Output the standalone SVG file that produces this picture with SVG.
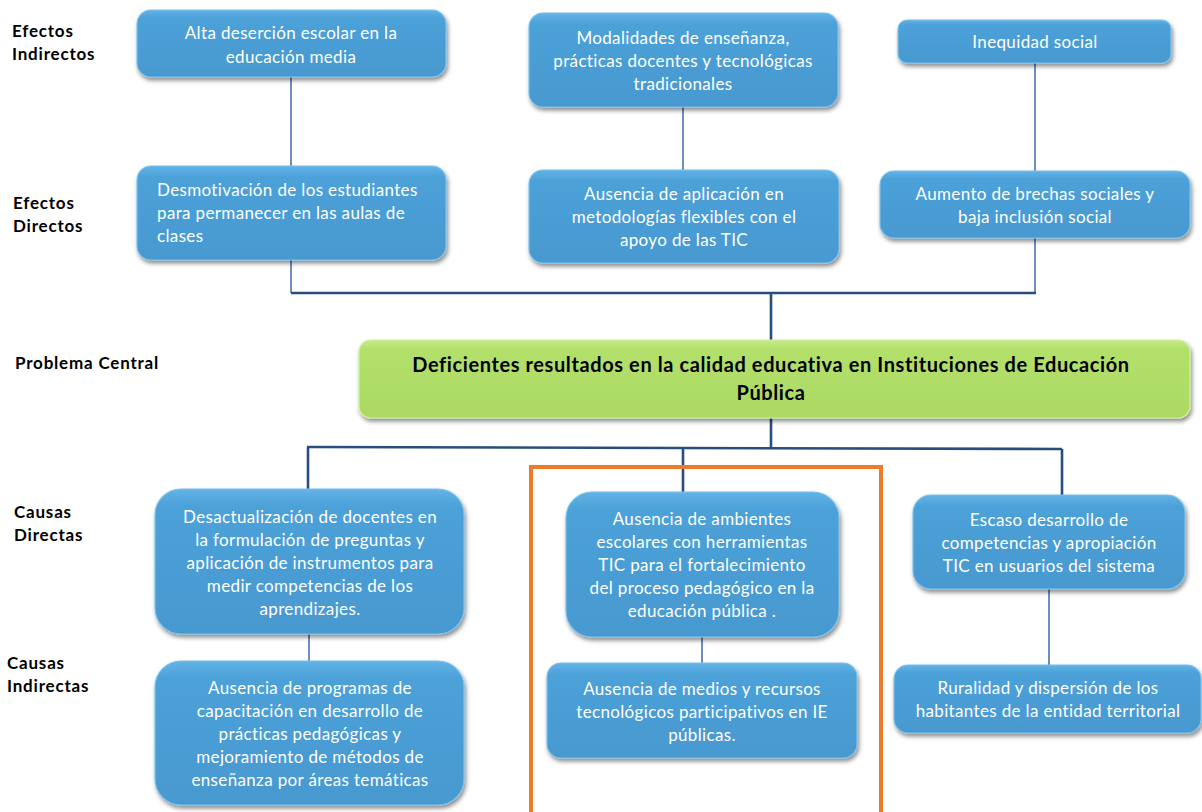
<svg xmlns="http://www.w3.org/2000/svg" width="1202" height="812" viewBox="0 0 1202 812">
<style>
.lbl{font-family:Lato,"Liberation Sans",sans-serif;font-weight:bold;font-size:17px;letter-spacing:0.8px;fill:#000}
.bx{fill:url(#gb);stroke:#7CC0EA;stroke-width:1.2;filter:url(#sh)}
.gr{fill:url(#gg);stroke:#CDEFA0;stroke-width:1.2;filter:url(#sh)}
.t{font-family:Lato,"Liberation Sans",sans-serif;font-size:17px;letter-spacing:0.35px;fill:#fff;text-anchor:middle}
.tl{font-family:Lato,"Liberation Sans",sans-serif;font-size:17px;letter-spacing:0.35px;fill:#fff}
.tg{font-family:Lato,"Liberation Sans",sans-serif;font-size:20px;letter-spacing:0.6px;font-weight:bold;fill:#000;text-anchor:middle}
.thin{stroke:#4872B0;stroke-width:1.6;fill:none}
.thick{stroke:#2A4D7F;stroke-width:2.6;fill:none}
</style>
<defs>
<linearGradient id="gb" x1="0" y1="0" x2="0" y2="1">
<stop offset="0" stop-color="#62B3E6"/><stop offset="0.12" stop-color="#4CA1D8"/><stop offset="1" stop-color="#4799D0"/>
</linearGradient>
<linearGradient id="gg" x1="0" y1="0" x2="0" y2="1">
<stop offset="0" stop-color="#C4EB85"/><stop offset="0.12" stop-color="#B2E06B"/><stop offset="1" stop-color="#ABD963"/>
</linearGradient>
<filter id="sh" x="-10%" y="-20%" width="120%" height="150%">
<feDropShadow dx="1.5" dy="3" stdDeviation="2" flood-color="#000" flood-opacity="0.45"/>
</filter>
</defs>
<rect width="1202" height="812" fill="#fff"/>

<g id="labels">
<text class="lbl" x="12" y="37">Efectos</text>
<text class="lbl" x="12" y="60">Indirectos</text>
<text class="lbl" x="13" y="209">Efectos</text>
<text class="lbl" x="13" y="232">Directos</text>
<text class="lbl" x="15" y="369">Problema Central</text>
<text class="lbl" x="14" y="518">Causas</text>
<text class="lbl" x="14" y="541">Directas</text>
<text class="lbl" x="7" y="669">Causas</text>
<text class="lbl" x="7" y="692">Indirectas</text>
</g>

<g id="connectors">
<line class="thin" x1="291" y1="77" x2="291" y2="166"/>
<line class="thin" x1="683" y1="107" x2="683" y2="170"/>
<line class="thin" x1="1035" y1="63" x2="1035" y2="171"/>
<line class="thin" x1="291" y1="260" x2="291" y2="293"/>
<line class="thin" x1="1035" y1="238" x2="1035" y2="293"/>
<line class="thick" x1="291" y1="293" x2="1036" y2="293"/>
<line class="thick" x1="771" y1="293" x2="771" y2="341"/>
<line class="thick" x1="771" y1="418" x2="771" y2="448"/>
<line class="thick" x1="307" y1="447" x2="1062" y2="449"/>
<line class="thick" x1="308" y1="447" x2="308" y2="490"/>
<line class="thick" x1="683" y1="448" x2="683" y2="493"/>
<line class="thick" x1="1062" y1="449" x2="1062" y2="496"/>
<line class="thin" x1="309" y1="634" x2="309" y2="661"/>
<line class="thin" x1="702" y1="637" x2="702" y2="663"/>
<line class="thin" x1="1049" y1="589" x2="1049" y2="665"/>
</g>

<rect id="highlight" x="531" y="467" width="350" height="350" fill="none" stroke="#EE7B2C" stroke-width="4"/>

<g id="n1"><rect class="bx" x="137" y="10" width="309" height="67" rx="14"/>
<text class="t" x="291" y="39">Alta deserción escolar en la</text>
<text class="t" x="291" y="63">educación media</text></g>

<g id="n2"><rect class="bx" x="137" y="166" width="309" height="94" rx="14"/>
<text class="tl" x="157" y="196">Desmotivación de los estudiantes</text>
<text class="tl" x="157" y="219">para permanecer en las aulas de</text>
<text class="tl" x="157" y="242">clases</text></g>

<g id="n3"><rect class="bx" x="529" y="13" width="309" height="94" rx="14"/>
<text class="t" x="683" y="44">Modalidades de enseñanza,</text>
<text class="t" x="683" y="67">prácticas docentes y tecnológicas</text>
<text class="t" x="683" y="90">tradicionales</text></g>

<g id="n4"><rect class="bx" x="529" y="170" width="310" height="93" rx="14"/>
<text class="t" x="684" y="200">Ausencia de aplicación en</text>
<text class="t" x="684" y="223">metodologías flexibles con el</text>
<text class="t" x="684" y="246">apoyo de las TIC</text></g>

<g id="n5"><rect class="bx" x="898" y="20" width="273" height="43" rx="9"/>
<text class="t" x="1035" y="48">Inequidad social</text></g>

<g id="n6"><rect class="bx" x="880" y="171" width="310" height="67" rx="14"/>
<text class="t" x="1035" y="200">Aumento de brechas sociales y</text>
<text class="t" x="1035" y="223">baja inclusión social</text></g>

<g id="n7"><rect class="gr" x="359" y="340" width="831" height="78" rx="12"/>
<text class="tg" x="771" y="372">Deficientes resultados en la calidad educativa en Instituciones de Educación</text>
<text class="tg" x="771" y="400">Pública</text></g>

<g id="n8"><rect class="bx" x="155" y="489" width="309" height="145" rx="26"/>
<text class="t" x="310" y="523">Desactualización de docentes en</text>
<text class="t" x="310" y="546">la formulación de preguntas y</text>
<text class="t" x="310" y="569">aplicación de instrumentos para</text>
<text class="t" x="310" y="592">medir competencias de los</text>
<text class="t" x="310" y="615">aprendizajes.</text></g>

<g id="n9"><rect class="bx" x="155" y="661" width="309" height="144" rx="26"/>
<text class="t" x="310" y="694">Ausencia de programas de</text>
<text class="t" x="310" y="717">capacitación en desarrollo de</text>
<text class="t" x="310" y="740">prácticas pedagógicas y</text>
<text class="t" x="310" y="763">mejoramiento de métodos de</text>
<text class="t" x="310" y="786">enseñanza por áreas temáticas</text></g>

<g id="n10"><rect class="bx" x="566" y="492" width="273" height="145" rx="26"/>
<text class="t" x="702" y="525">Ausencia de ambientes</text>
<text class="t" x="702" y="548">escolares con herramientas</text>
<text class="t" x="702" y="571">TIC para el fortalecimiento</text>
<text class="t" x="702" y="594">del proceso pedagógico en la</text>
<text class="t" x="702" y="617">educación pública .</text></g>

<g id="n11"><rect class="bx" x="547" y="663" width="310" height="95" rx="14"/>
<text class="t" x="702" y="695">Ausencia de medios y recursos</text>
<text class="t" x="702" y="718">tecnológicos participativos en IE</text>
<text class="t" x="702" y="741">públicas.</text></g>

<g id="n12"><rect class="bx" x="913" y="495" width="272" height="94" rx="18"/>
<text class="t" x="1049" y="526">Escaso desarrollo de</text>
<text class="t" x="1049" y="549">competencias y apropiación</text>
<text class="t" x="1049" y="572">TIC en usuarios del sistema</text></g>

<g id="n13"><rect class="bx" x="894" y="665" width="307" height="68" rx="14"/>
<text class="t" x="1048" y="694">Ruralidad y dispersión de los</text>
<text class="t" x="1048" y="717">habitantes de la entidad territorial</text></g>
</svg>
